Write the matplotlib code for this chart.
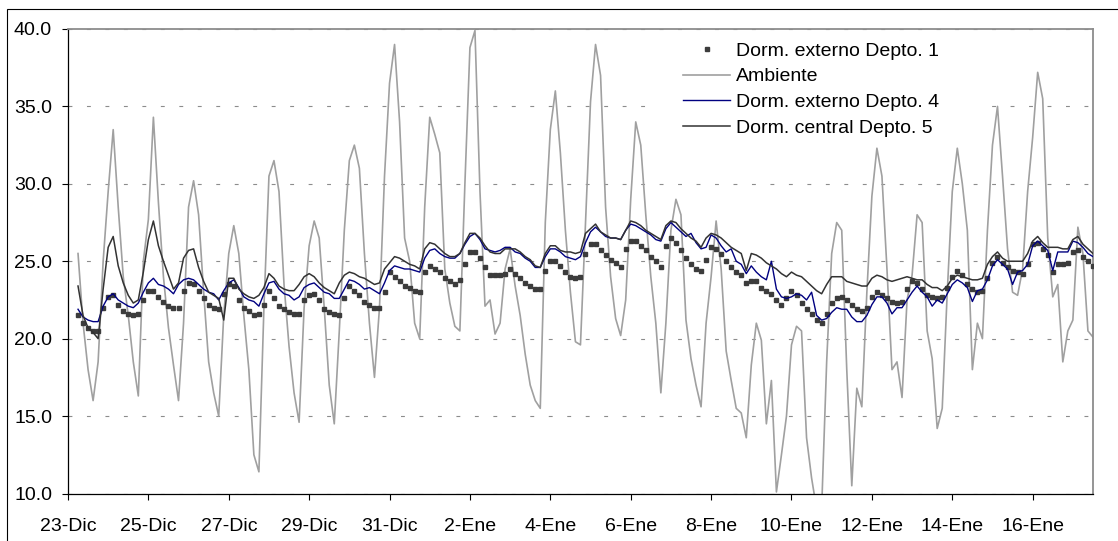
from __future__ import annotations

import matplotlib

matplotlib.use("Agg")

import matplotlib.pyplot as plt
import pandas as pd
from matplotlib.patches import Rectangle
from matplotlib.ticker import FormatStrFormatter


# 3-hourly readings, starting 23-Dic 06:00
START = "2007-12-23 06:00"

AMBIENTE = [
    25.5, 21.0, 18.0, 16.0, 18.5, 25.0,
    29.5, 33.5, 28.5, 24.0, 21.5, 18.5, 16.3, 25.0,
    27.7, 34.3, 28.8, 24.0, 20.7, 18.3, 16.0, 21.0,
    28.5, 30.2, 28.0, 23.0, 18.5, 16.5, 15.0, 21.5,
    25.5, 27.3, 25.5, 21.5, 18.0, 12.5, 11.4, 22.0,
    30.5, 31.5, 29.5, 23.5, 19.5, 16.5, 14.6, 22.0,
    26.0, 27.6, 26.5, 22.0, 17.0, 14.5, 20.5, 27.0,
    31.5, 32.5, 31.0, 25.5, 21.0, 17.5, 22.0, 30.5,
    36.5, 39.0, 34.0, 26.5, 25.0, 21.0, 20.0, 28.5,
    34.3, 33.2, 32.0, 24.5, 22.3, 20.8, 20.5, 30.0,
    38.8, 39.9, 29.5, 22.1, 22.5, 20.3, 21.0, 24.5,
    25.8, 23.4, 21.5, 19.0, 17.0, 16.0, 15.5, 27.5,
    33.5, 36.0, 32.0, 27.0, 23.0, 19.8, 19.6, 27.5,
    35.3, 39.0, 37.0, 28.5, 24.0, 21.3, 20.2, 22.5,
    29.0, 34.0, 32.5, 28.0, 24.0, 21.0, 16.5, 21.0,
    27.0, 29.0, 28.0, 21.2, 18.7, 17.0, 15.6, 21.0,
    24.0, 27.6, 24.5, 19.2, 17.3, 15.5, 15.2, 13.6,
    18.3, 21.0, 19.9, 14.5, 17.3, 10.1, 12.5, 15.0,
    19.6, 20.8, 20.5, 13.6, 11.0, 9.0, 9.0, 18.5,
    25.5, 27.5, 27.0, 18.0, 10.5, 16.8, 15.6, 23.0,
    29.2, 32.3, 30.5, 24.5, 18.0, 18.5, 16.2, 22.5,
    24.1, 28.0, 27.5, 20.5, 18.7, 14.2, 15.5, 23.0,
    29.5, 32.3, 30.0, 27.0, 18.0, 21.0, 20.0, 27.0,
    32.5, 35.0, 30.5, 25.8, 23.0, 22.8, 24.5, 29.5,
    33.0, 37.2, 35.5, 26.5, 22.7, 23.5, 18.5, 20.5,
    21.2, 27.2, 25.5, 20.5, 20.1,
]

DEPTO_1 = [
    21.5, 21.0, 20.7, 20.5, 20.5, 22.0,
    22.7, 22.8, 22.2, 21.8, 21.6, 21.5, 21.6, 22.5,
    23.1, 23.1, 22.7, 22.4, 22.1, 22.0, 22.0, 23.1,
    23.6, 23.5, 23.1, 22.6, 22.2, 22.0, 21.9, 22.9,
    23.5, 23.4, 22.5, 22.0, 21.8, 21.5, 21.6, 22.2,
    23.1, 22.6, 22.1, 21.9, 21.7, 21.6, 21.6, 22.5,
    22.8, 22.9, 22.5, 21.9, 21.7, 21.6, 21.5, 22.6,
    23.4, 23.1, 22.8, 22.4, 22.2, 22.0, 22.0, 23.0,
    24.3, 24.0, 23.7, 23.4, 23.3, 23.1, 23.0, 24.3,
    24.7, 24.5, 24.3, 23.9, 23.7, 23.5, 23.8, 24.8,
    25.6, 25.6, 25.2, 24.6, 24.1, 24.1, 24.1, 24.2,
    24.5, 24.2, 23.9, 23.6, 23.4, 23.2, 23.2, 24.4,
    25.0, 25.0, 24.7, 24.3, 24.0, 23.9, 24.0, 25.5,
    26.1, 26.1, 25.7, 25.4, 25.1, 24.9, 24.6, 25.8,
    26.3, 26.3, 26.0, 25.7, 25.3, 25.0, 24.6, 26.0,
    26.5, 26.2, 25.7, 25.2, 24.8, 24.5, 24.4, 25.1,
    25.9, 25.8, 25.5, 25.0, 24.6, 24.3, 24.1, 23.6,
    23.7, 23.7, 23.3, 23.1, 22.9, 22.5, 22.2, 22.6,
    23.1, 22.8, 22.3, 21.9, 21.6, 21.2, 21.0, 21.6,
    22.3, 22.6, 22.7, 22.5, 22.2, 21.9, 21.8, 22.0,
    22.7, 23.0, 22.8, 22.6, 22.4, 22.3, 22.4, 23.2,
    23.7, 23.6, 23.2, 22.8, 22.7, 22.6, 22.7, 23.3,
    24.0, 24.4, 24.1, 23.5, 23.2, 23.0, 23.1, 23.9,
    24.9, 25.3, 24.9, 24.6, 24.4, 24.3, 24.2, 24.8,
    26.1, 26.2, 25.8, 25.4, 24.3, 24.8, 24.8, 24.9,
    25.6, 25.7, 25.3, 25.0, 24.7,
]

DEPTO_4 = [
    21.9, 21.4, 21.2, 21.1, 21.1, 22.1,
    22.7, 22.9, 22.5, 22.3, 22.1, 22.0, 22.3, 23.0,
    23.6, 23.9, 23.5, 23.4, 23.2, 22.9, 23.5, 23.8,
    23.9, 23.8, 23.5, 23.2, 23.0, 22.9, 22.5, 23.1,
    23.6, 23.8, 23.3, 22.7, 22.5, 22.4, 22.1, 22.9,
    23.6, 23.7, 23.2, 22.9, 22.8, 22.5, 22.7, 23.3,
    23.5, 23.6, 23.3, 23.0, 22.9, 22.6, 22.6, 23.2,
    23.8, 23.7, 23.5, 23.2, 23.3, 23.1, 22.9, 23.6,
    24.4, 24.7, 24.6, 24.5, 24.5, 24.4, 24.3, 25.2,
    25.7, 25.8, 25.5, 25.3, 25.2, 25.2, 25.5, 26.1,
    26.6, 26.8, 26.4, 25.8, 25.7, 25.6, 25.7, 25.9,
    25.9, 25.6, 25.5, 25.2, 25.0, 24.6, 24.6, 25.3,
    25.8, 25.8, 25.6, 25.3, 25.2, 25.1, 25.3, 26.2,
    26.9, 27.2, 26.9, 26.6, 26.5, 26.5, 26.4, 27.0,
    27.4, 27.3, 27.1, 26.9, 26.7, 26.4, 26.3, 27.1,
    27.5, 27.2, 26.9, 26.6, 26.8, 26.2, 25.8, 25.9,
    26.7, 26.5, 26.0, 25.6, 25.8, 25.0, 24.8, 24.2,
    24.7, 24.3, 24.0, 23.8, 25.0, 23.2, 22.7, 22.6,
    22.7, 22.9, 22.8, 22.5, 23.0, 21.5, 21.2, 21.3,
    21.7, 22.0, 21.9, 21.9, 21.4, 21.1, 21.1, 21.5,
    22.2, 22.7, 22.7, 22.3, 21.6, 22.0, 22.0, 22.5,
    23.0, 23.4, 23.0, 22.7, 22.1, 22.5, 22.3, 22.9,
    23.5, 23.8, 23.6, 23.3, 22.4, 23.1, 23.2, 23.8,
    24.7, 25.1, 24.8, 24.5, 23.5, 24.3, 24.4, 24.8,
    26.0, 26.3, 26.0, 25.7, 24.4, 25.6, 25.6, 25.6,
    26.3, 26.2, 25.9, 25.5, 25.3,
]

DEPTO_5 = [
    23.4, 21.5, 20.7, 20.4, 20.0, 23.2,
    25.9, 26.6, 24.7, 23.6, 22.8, 22.3, 22.5, 24.3,
    26.4, 27.6, 26.0, 25.0, 24.1, 23.2, 23.6, 25.2,
    25.7, 25.8, 24.6, 23.7, 23.0, 22.8, 22.6, 21.2,
    23.9, 23.9, 23.2, 22.9, 22.7, 22.6, 22.8, 23.3,
    24.2, 23.9, 23.4, 23.2, 23.1, 23.1, 23.5, 24.0,
    24.2, 24.0, 23.6, 23.3, 23.1, 22.9, 23.6, 24.1,
    24.3, 24.2, 24.0, 23.9, 23.7, 23.5, 23.6, 24.5,
    24.9, 25.3, 25.2, 25.0, 24.8, 24.7, 24.5, 25.8,
    26.2, 26.1, 25.8, 25.5, 25.3, 25.3, 25.5, 26.2,
    26.8, 26.8, 26.5, 26.0, 25.6, 25.5, 25.5, 25.8,
    25.8, 25.8, 25.6, 25.3, 25.1, 24.7, 24.6, 25.5,
    26.0, 26.0, 25.7, 25.6, 25.6, 25.5, 25.6, 26.8,
    27.1, 27.4, 26.9, 26.7, 26.5, 26.5, 26.4, 27.0,
    27.6, 27.5, 27.3, 27.0, 26.8, 26.6, 26.4, 27.3,
    27.6, 27.5, 27.1, 26.8, 26.5, 26.3, 25.9, 26.5,
    26.8, 26.7, 26.5, 26.2, 25.9, 25.7, 25.5, 24.4,
    25.5, 25.4, 25.2, 24.9, 24.7, 24.5, 24.2, 24.0,
    24.3, 24.1, 24.0, 23.7, 23.4, 23.1, 22.9, 23.5,
    24.0, 24.0, 24.0, 23.7, 23.6, 23.5, 23.4, 23.4,
    23.9, 24.1, 24.0, 23.8, 23.7, 23.8, 23.9, 24.0,
    23.9, 23.8, 23.8, 23.5, 23.3, 23.3, 23.1, 23.4,
    23.9, 24.1, 24.0, 23.9, 23.8, 23.8, 23.9, 24.8,
    25.3, 25.6, 25.2, 25.0, 25.0, 25.0, 25.0, 25.5,
    26.3, 26.6, 26.2, 25.9, 25.9, 25.9, 25.8, 25.8,
    26.4, 26.6, 26.1, 25.8, 25.5,
]

TICK_LABELS = [
    "23-Dic", "25-Dic", "27-Dic", "29-Dic", "31-Dic", "2-Ene", "4-Ene",
    "6-Ene", "8-Ene", "10-Ene", "12-Ene", "14-Ene", "16-Ene",
]
Y_TICKS = [10, 15, 20, 25, 30, 35, 40]

LABEL_D1 = "Dorm. externo Depto. 1"
LABEL_AMB = "Ambiente"
LABEL_D4 = "Dorm. externo Depto. 4"
LABEL_D5 = "Dorm. central Depto. 5"


def plot_temperatures(output_path: str) -> None:
    plt.rcParams["font.family"] = ["Liberation Sans", "DejaVu Sans"]
    plt.rcParams["font.size"] = 14
    plt.rcParams["lines.scale_dashes"] = False

    times = pd.date_range(START, periods=len(AMBIENTE), freq="3h")
    tick_dates = pd.date_range("2007-12-23", periods=len(TICK_LABELS), freq="2D")

    figure = plt.figure(figsize=(11.18, 5.41), dpi=100)
    axis = figure.add_axes((0.0608, 0.0878, 0.9168, 0.8586))

    axis.plot(times, DEPTO_1, linestyle="none", marker="s", markersize=2.4,
              color="#3c3c3c", label=LABEL_D1, zorder=3)
    axis.plot(times, AMBIENTE, color="#a0a0a0", linewidth=1.2,
              label=LABEL_AMB, zorder=2)
    axis.plot(times, DEPTO_4, color="#000080", linewidth=1.0,
              label=LABEL_D4, zorder=4)
    axis.plot(times, DEPTO_5, color="#333333", linewidth=1.1,
              label=LABEL_D5, zorder=5)

    axis.set_xlim(pd.Timestamp("2007-12-23 00:00"), pd.Timestamp("2008-01-17 12:00"))
    axis.set_ylim(10, 40)
    axis.set_yticks(Y_TICKS)
    axis.yaxis.set_major_formatter(FormatStrFormatter("%.1f"))
    axis.set_xticks(tick_dates)
    axis.set_xticklabels(TICK_LABELS)

    axis.grid(axis="y", color="#8c8c8c", linewidth=0.8, linestyle=(0, (2.8, 10.5)))
    axis.set_axisbelow(True)
    axis.tick_params(direction="out", length=4.5, width=0.8, color="black", pad=7)
    axis.tick_params(axis="x", pad=13)

    for side in ("left", "bottom"):
        axis.spines[side].set_color("black")
        axis.spines[side].set_linewidth(0.9)
    for side in ("top", "right"):
        axis.spines[side].set_color("#8c8c8c")
        axis.spines[side].set_linewidth(1.3)

    # white area behind the legend hides the grid there, like the original
    axis.add_patch(Rectangle((0.5746, 0.761), 0.32, 0.228, transform=axis.transAxes,
                             facecolor="white", edgecolor="none", zorder=1))
    legend = axis.legend(loc="upper left", bbox_to_anchor=(0.588, 0.999),
                         frameon=False, handlelength=2.4, handletextpad=0.3,
                         labelspacing=0.42, borderpad=0.15, markerscale=1.1)
    legend.set_zorder(6)

    figure.add_artist(Rectangle((7 / 1118, -0.1), 1.1, 1.1 - 9.5 / 541,
                                transform=figure.transFigure, fill=False,
                                edgecolor="black", linewidth=0.8))

    figure.savefig(output_path, dpi=100)


def main() -> None:
    plot_temperatures("out.png")


if __name__ == "__main__":
    main()
